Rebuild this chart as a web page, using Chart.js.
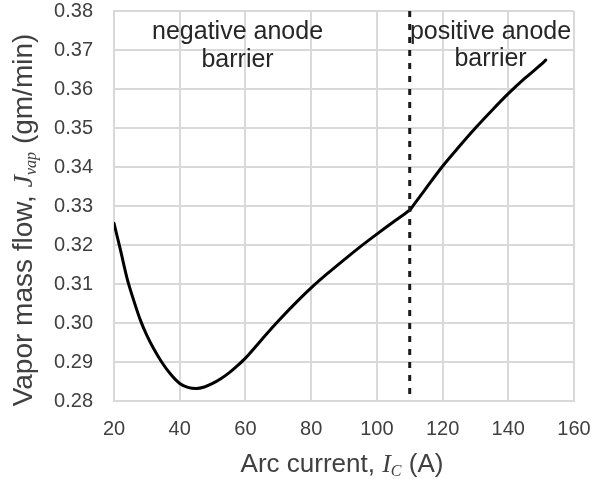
<!DOCTYPE html>
<html>
<head>
<meta charset="utf-8">
<script src="https://cdn.jsdelivr.net/npm/chart.js@4"></script>
<style>
  html, body { margin: 0; padding: 0; background: #fff; }
  #wrap { width: 592px; height: 479px; }
</style>
</head>
<body>
<div id="wrap"><canvas id="vapChart"></canvas></div>
<script>
// arc current (A) and vapor mass flow (gm/min)
const current = [20, 22, 24, 26, 28, 30, 32, 34.5, 37, 40, 42.5, 45, 47.5, 50, 52.5, 55, 57.5, 60, 65, 70, 75, 80, 85, 90, 95, 100, 105, 110, 115, 120, 125, 130, 135, 140, 145, 150, 151.4];
const vaporFlow = [0.3256, 0.3186, 0.3114, 0.3058, 0.3008, 0.2968, 0.2935, 0.2900, 0.2871, 0.2845, 0.2835, 0.2832, 0.2836, 0.2845, 0.2857, 0.2872, 0.2890, 0.2910, 0.2958, 0.3005, 0.3049, 0.3090, 0.3127, 0.3162, 0.3196, 0.3228, 0.3259, 0.3289, 0.3346, 0.3402, 0.3452, 0.3500, 0.3545, 0.3588, 0.3627, 0.3663, 0.3674];

const xTicks = [20, 40, 60, 80, 100, 120, 140, 160];
const yTicks = [0.28, 0.29, 0.30, 0.31, 0.32, 0.33, 0.34, 0.35, 0.36, 0.37, 0.38];

// boundary between the two regimes
const barrierCurrent = 110;

const regionLabels = [
  { lines: ["negative anode", "barrier"], x: 57.6, y: [0.3747, 0.3673] },
  { lines: ["positive anode", "barrier"], x: 134.6, y: [0.3747, 0.3677] }
];

const SANS = "'Liberation Sans', Arial, sans-serif";
const SERIF = "'Liberation Serif', 'Times New Roman', serif";
const TEXT = "#404040";

const points = current.map((c, i) => ({ x: c, y: vaporFlow[i] }));
// the curve has a corner at the barrier, so each side is smoothed on its own
const belowBarrier = points.filter(p => p.x <= barrierCurrent);
const aboveBarrier = points.filter(p => p.x >= barrierCurrent);

// draws pieces of text with mixed fonts one after another, centred on cx
function drawRuns(ctx, runs, cx, baseline) {
  let total = 0;
  runs.forEach(r => { ctx.font = r.font; r.w = ctx.measureText(r.text).width; total += r.w; });
  let x = cx - total / 2;
  runs.forEach(r => {
    ctx.font = r.font;
    ctx.fillText(r.text, x, baseline + (r.dy || 0));
    x += r.w;
  });
}

const extras = {
  id: "extras",
  afterDatasetsDraw(chart) {
    const { ctx, chartArea, scales } = chart;
    const xs = scales.x, ys = scales.y;

    // dotted barrier line
    const bx = xs.getPixelForValue(barrierCurrent);
    ctx.save();
    ctx.strokeStyle = "#1a1a1a";
    ctx.lineWidth = 3;
    ctx.setLineDash([6, 7]);
    ctx.beginPath();
    ctx.moveTo(bx, chartArea.top);
    ctx.lineTo(bx, chartArea.bottom);
    ctx.stroke();
    ctx.restore();

    // region notes
    ctx.save();
    ctx.fillStyle = "#262626";
    ctx.textAlign = "center";
    ctx.textBaseline = "middle";
    ctx.font = "25px " + SANS;
    regionLabels.forEach(lbl => {
      lbl.lines.forEach((t, i) => {
        ctx.fillText(t, xs.getPixelForValue(lbl.x), ys.getPixelForValue(lbl.y[i]));
      });
    });
    ctx.restore();

    // axis titles
    ctx.save();
    ctx.fillStyle = TEXT;
    ctx.textAlign = "left";
    ctx.textBaseline = "alphabetic";
    drawRuns(ctx, [
      { text: "Arc current, ", font: "26px " + SANS },
      { text: "I", font: "italic 26px " + SERIF },
      { text: "C", font: "italic 16px " + SERIF, dy: 4 },
      { text: " (A)", font: "26px " + SANS }
    ], 342, 472);

    ctx.translate(32, 220);
    ctx.rotate(-Math.PI / 2);
    drawRuns(ctx, [
      { text: "Vapor mass flow, ", font: "28px " + SANS },
      { text: "J", font: "italic 28px " + SERIF },
      { text: "vap", font: "italic 16px " + SERIF, dy: 4 },
      { text: " (gm/min)", font: "28px " + SANS }
    ], 0, 0);
    ctx.restore();
  }
};

const lineStyle = {
  borderColor: "#000",
  borderWidth: 3,
  borderCapStyle: "round",
  pointRadius: 0,
  fill: false,
  cubicInterpolationMode: "monotone"
};

new Chart(document.getElementById("vapChart"), {
  type: "line",
  data: {
    datasets: [
      Object.assign({ data: belowBarrier }, lineStyle),
      Object.assign({ data: aboveBarrier }, lineStyle)
    ]
  },
  options: {
    responsive: true,
    maintainAspectRatio: false,
    animation: false,
    layout: { padding: { top: 11, right: 18, left: 0, bottom: 0 } },
    plugins: { legend: { display: false }, tooltip: { enabled: false } },
    scales: {
      x: {
        type: "linear",
        min: xTicks[0],
        max: xTicks[xTicks.length - 1],
        afterBuildTicks: s => { s.ticks = xTicks.map(v => ({ value: v })); },
        afterFit: s => { s.height = 78; s.paddingLeft = 0; s.paddingRight = 0; },
        grid: { color: "#d9d9d9", lineWidth: 2, drawTicks: false },
        border: { color: "#d9d9d9", width: 2 },
        ticks: { color: TEXT, font: { family: SANS, size: 20 }, padding: 16, maxRotation: 0 }
      },
      y: {
        type: "linear",
        min: yTicks[0],
        max: yTicks[yTicks.length - 1],
        afterBuildTicks: s => { s.ticks = yTicks.map(v => ({ value: v })); },
        afterFit: s => { s.width = 114; s.paddingTop = 0; s.paddingBottom = 0; },
        grid: { color: "#d9d9d9", lineWidth: 2, drawTicks: false },
        border: { color: "#d9d9d9", width: 2 },
        ticks: {
          color: TEXT,
          font: { family: SANS, size: 20 },
          padding: 21,
          callback: v => v.toFixed(2)
        }
      }
    }
  },
  plugins: [extras]
});
</script>
</body>
</html>
